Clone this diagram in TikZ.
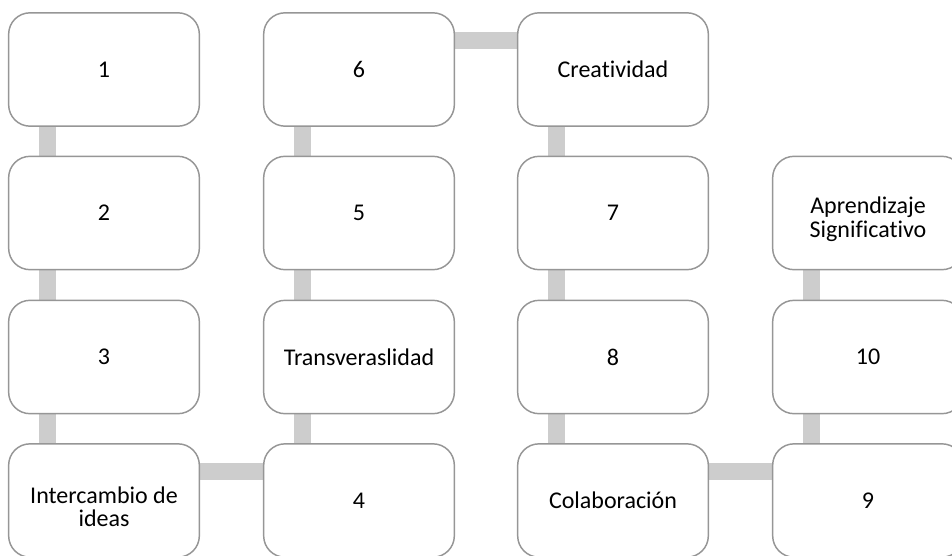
\documentclass[tikz,border=0pt]{standalone}
\usepackage{fontspec}
\setmainfont{Carlito}[Ligatures=NoCommon]
\usetikzlibrary{backgrounds}
\definecolor{boxgray}{RGB}{150,150,150}
\definecolor{linkgray}{RGB}{205,205,205}

\tikzset{
  stepbox/.style={draw=boxgray, fill=white, line width=1.1pt, rounded corners=16pt,
    minimum width=143pt, minimum height=85pt, align=center, inner sep=2pt,
    font=\fontsize{18}{17.5}\selectfont},
  link/.style={draw=linkgray, line width=13pt}
}
% lowers a two-line label a little, as in the original
\newcommand{\droptext}{\rule{0pt}{22pt}}

\begin{document}
\begin{tikzpicture}[x=0.75pt,y=-0.75pt]
    \useasboundingbox (0,0) rectangle (952,556);
    \clip (0,0) rectangle (952,556);

    % First column
    \node[stepbox] (n1) at (104,69.5) {1};
    \node[stepbox] (n2) at (104,213) {2};
    \node[stepbox] (n3) at (104,357) {3};
    \node[stepbox] (inter) at (104,500.5) {\droptext Intercambio de\\ideas};

    % Second column
    \node[stepbox] (n6) at (359,69.5) {6};
    \node[stepbox] (n5) at (359,213) {5};
    \node[stepbox] (trans) at (359,357) {Transveraslidad};
    \node[stepbox] (n4) at (359,500.5) {4};

    % Third column
    \node[stepbox] (creat) at (613,69.5) {Creatividad};
    \node[stepbox] (n7) at (613,213) {7};
    \node[stepbox] (n8) at (613,357) {8};
    \node[stepbox] (colab) at (613,500.5) {Colaboración};

    % Fourth column
    \node[stepbox] (aprend) at (868,213) {\droptext Aprendizaje\\Significativo};
    \node[stepbox] (n10) at (868,357) {10};
    \node[stepbox] (n9) at (868,500.5) {9};

    % Connectors behind the boxes
    \begin{scope}[on background layer]
        \foreach \a/\b in {n1/n2, n2/n3, n3/inter, n6/n5, n5/trans, trans/n4,
                           creat/n7, n7/n8, n8/colab, aprend/n10, n10/n9}
            \draw[link] ([xshift=29.6pt]\a.south west) -- ([xshift=29.6pt]\b.north west);
        \foreach \a/\b in {inter/n4, n6/creat, colab/n9}
            \draw[link] ([yshift=-21.2pt]\a.north east) -- ([yshift=-21.2pt]\b.north west);
    \end{scope}

\end{tikzpicture}
\end{document}
